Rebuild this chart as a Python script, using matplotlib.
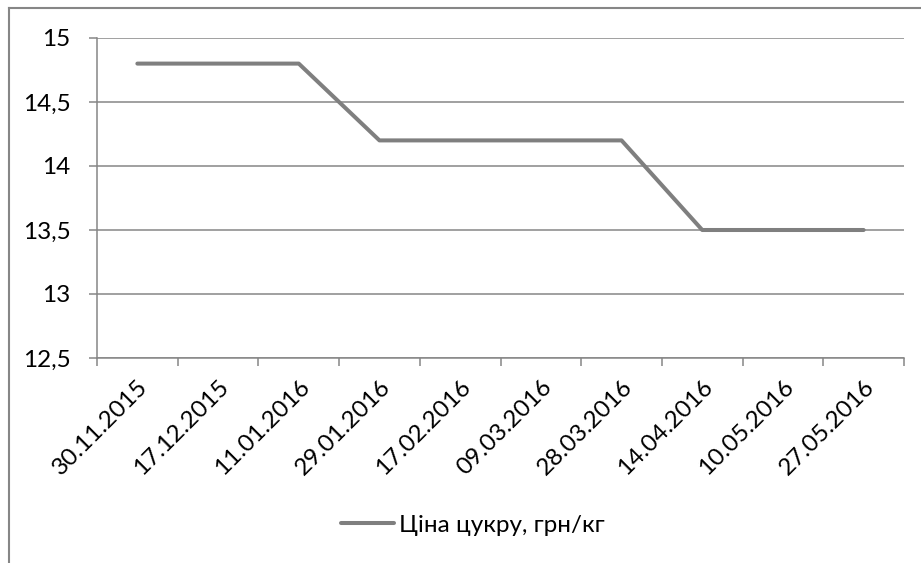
import matplotlib

matplotlib.use("Agg")
import matplotlib.pyplot as plt
from matplotlib.lines import Line2D
from matplotlib.ticker import FixedLocator, FuncFormatter

plt.rcParams["font.family"] = ["Lato", "Noto Sans", "DejaVu Sans"]

dates = [
    "30.11.2015", "17.12.2015", "11.01.2016", "29.01.2016", "17.02.2016",
    "09.03.2016", "28.03.2016", "14.04.2016", "10.05.2016", "27.05.2016",
]
price = [14.8, 14.8, 14.8, 14.2, 14.2, 14.2, 14.2, 13.5, 13.5, 13.5]
y_ticks = [12.5, 13, 13.5, 14, 14.5, 15]
series_label = "Ціна цукру, грн/кг"

W, H = 921, 563
grey = "#868686"
line_grey = "#7f7f7f"
fs = 17.5

fig = plt.figure(figsize=(W / 100, H / 100), dpi=100)
ax = fig.add_axes([97 / W, 1 - 358 / H, (904 - 97) / W, (358 - 38) / H])

x = list(range(len(dates)))
ax.plot(x, price, color=line_grey, lw=2.9, solid_capstyle="round",
        solid_joinstyle="round", label=series_label, zorder=3)

ax.set_xlim(-0.5, len(dates) - 0.5)
ax.set_ylim(y_ticks[0], y_ticks[-1])

ax.set_yticks(y_ticks)
ax.yaxis.set_major_formatter(
    FuncFormatter(lambda v, _: f"{v:g}".replace(".", ","))
)
ax.grid(axis="y", color=grey, lw=1.1)
ax.set_axisbelow(True)

ax.set_xticks(x)
ax.set_xticklabels(dates, rotation=45, ha="right", va="top",
                   rotation_mode="anchor")
ax.xaxis.set_minor_locator(FixedLocator([i - 0.5 for i in range(len(dates) + 1)]))

ax.tick_params(axis="x", which="major", length=0, pad=13, labelsize=fs)
ax.tick_params(axis="x", which="minor", length=5.5, width=1.1, color=grey)
ax.tick_params(axis="y", length=6, width=1.1, color=grey, pad=13, labelsize=fs)

for side in ("top", "right"):
    ax.spines[side].set_visible(False)
for side in ("left", "bottom"):
    ax.spines[side].set_color(grey)
    ax.spines[side].set_linewidth(1.1)

# chart frame (only left and top edges fall inside the image)
fig.add_artist(Line2D([8.5 / W, 8.5 / W], [0, 1 - 7.5 / H], color=grey, lw=1.5))
fig.add_artist(Line2D([8.5 / W, 1], [1 - 7.5 / H, 1 - 7.5 / H], color=grey, lw=1.5))

fig.legend(loc="center", bbox_to_anchor=(473 / W, 1 - 525 / H), frameon=False,
           fontsize=fs, handlelength=2.2, handletextpad=0.2)

fig.savefig("out.png", dpi=100)
